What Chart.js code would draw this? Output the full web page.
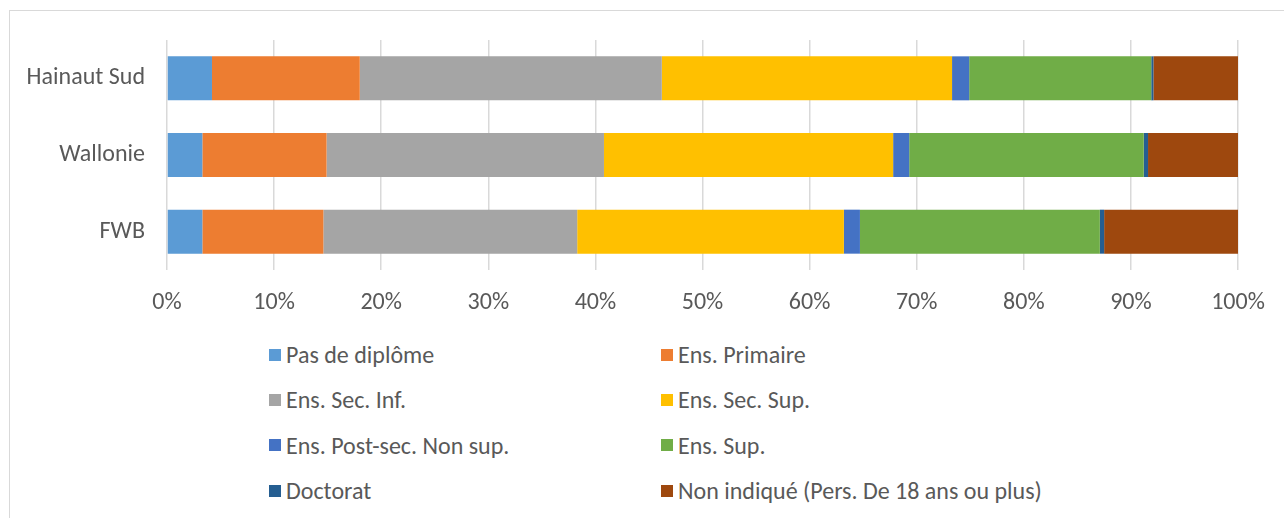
<!DOCTYPE html>
<html>
<head>
<meta charset="utf-8">
<script src="https://cdn.jsdelivr.net/npm/chart.js@4/dist/chart.umd.min.js"></script>
<style>
  html, body { margin: 0; padding: 0; background: #fff; }
  body { width: 1284px; height: 518px; overflow: hidden; position: relative; font-family: Carlito, Lato, sans-serif; }
  #frame { position: absolute; left: 9px; top: 10px; width: 1290px; height: 520px; border: 1px solid #d9d9d9; box-sizing: border-box; }
  #chart { position: absolute; left: 0; top: 0; }
  #legend { position: absolute; left: 269px; top: 332px; display: grid; grid-template-columns: 392px 400px; grid-auto-rows: 45.3px; }
  .item { display: flex; align-items: center; color: #595959; font-size: 24px; white-space: nowrap; }
  .box { width: 12px; height: 12px; margin-right: 5px; flex: none; }
</style>
</head>
<body>
<div id="frame"></div>
<canvas id="chart" width="1284" height="330"></canvas>
<div id="legend"></div>
<script>
// categories, top to bottom
const regions = ['Hainaut Sud', 'Wallonie', 'FWB'];

// share of each diploma level (%) per region
const pasDeDiplome = [4.2, 3.3, 3.3];
const ensPrimaire = [13.8, 11.6, 11.3];
const ensSecInf = [28.2, 25.9, 23.7];
const ensSecSup = [27.1, 27.0, 24.9];
const ensPostSec = [1.6, 1.5, 1.5];
const ensSup = [17.0, 21.9, 22.4];
const doctorat = [0.2, 0.4, 0.4];
const nonIndique = [7.9, 8.4, 12.5];

const seriesNames = [
  'Pas de diplôme', 'Ens. Primaire', 'Ens. Sec. Inf.', 'Ens. Sec. Sup.',
  'Ens. Post-sec. Non sup.', 'Ens. Sup.', 'Doctorat', 'Non indiqué (Pers. De 18 ans ou plus)'
];
const seriesValues = [pasDeDiplome, ensPrimaire, ensSecInf, ensSecSup, ensPostSec, ensSup, doctorat, nonIndique];
const seriesColors = ['#5B9BD5', '#ED7D31', '#A5A5A5', '#FFC000', '#4472C4', '#70AD47', '#255E91', '#9E480E'];

const xTicks = [0, 10, 20, 30, 40, 50, 60, 70, 80, 90, 100];

const textColor = '#595959';
const gridColor = '#d9d9d9';
const fontFamily = 'Carlito, Lato, sans-serif';

const datasets = seriesNames.map((name, i) => ({
  label: name,
  data: seriesValues[i],
  backgroundColor: seriesColors[i],
  borderWidth: 0,
  categoryPercentage: 0.574,
  barPercentage: 1,
}));

const chart = new Chart(document.getElementById('chart').getContext('2d'), {
  type: 'bar',
  data: { labels: regions, datasets },
  options: {
    indexAxis: 'y',
    responsive: false,
    animation: false,
    layout: { padding: { top: 40, right: 46, left: 0, bottom: 0 } },
    plugins: { legend: { display: false }, tooltip: { enabled: false } },
    scales: {
      x: {
        stacked: true,
        min: 0,
        max: 100,
        afterBuildTicks: (scale) => { scale.ticks = xTicks.map((v) => ({ value: v })); },
        afterFit: (scale) => { scale.height = 60; },
        ticks: {
          callback: (v) => v + '%',
          color: textColor,
          font: { family: fontFamily, size: 24 },
          padding: 19,
          maxRotation: 0,
        },
        grid: { color: gridColor, lineWidth: 1.5, drawTicks: false },
        border: { display: false },
      },
      y: {
        stacked: true,
        afterFit: (scale) => { scale.width = 167; },
        ticks: {
          color: textColor,
          font: { family: fontFamily, size: 24 },
          padding: 22,
        },
        grid: { display: false, drawTicks: false },
        border: { display: false },
      },
    },
  },
});

// two-column legend built from the chart's datasets
const legend = document.getElementById('legend');
chart.data.datasets.forEach((ds) => {
  const item = document.createElement('div');
  item.className = 'item';
  const box = document.createElement('span');
  box.className = 'box';
  box.style.background = ds.backgroundColor;
  const label = document.createElement('span');
  label.textContent = ds.label;
  item.appendChild(box);
  item.appendChild(label);
  legend.appendChild(item);
});
</script>
</body>
</html>
